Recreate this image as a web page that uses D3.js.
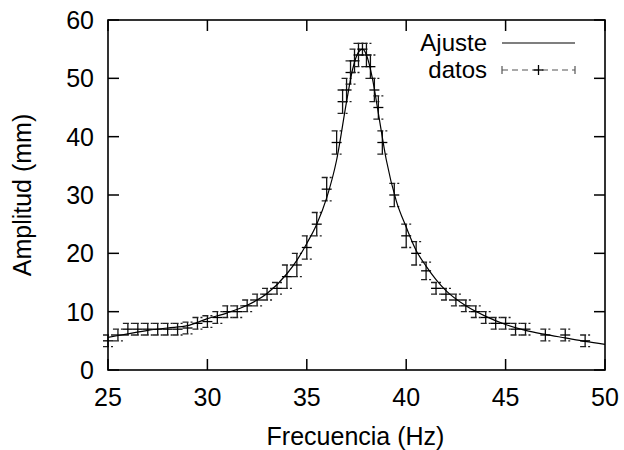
<!DOCTYPE html>
<html>
<head>
<meta charset="utf-8">
<script src="https://cdn.jsdelivr.net/npm/d3@7"></script>
<style>
  body { margin: 0; background: #fff; }
  svg { display: block; font-family: "Liberation Sans", Arial, sans-serif; }
</style>
</head>
<body>
<div id="chart"></div>
<script>
// Measured data (frequency in Hz, amplitude in mm, error in mm)
const freq = [25, 25.5, 26, 26.5, 27, 27.5, 28, 28.5, 29, 29.5, 30, 30.5, 31, 31.5, 32, 32.5,
  33, 33.5, 34, 34.5, 35, 35.5, 36, 36.5, 36.8, 37.0, 37.2, 37.4, 37.6, 37.8, 38.0, 38.2,
  38.4, 38.6, 38.8, 39.4, 40.0, 40.5, 41.0, 41.5, 42.0, 42.5, 43.0, 43.5, 44.0, 44.5,
  45.0, 45.5, 46.0, 47.0, 48.0, 49.0];
const amp = [5, 6, 7, 7, 7, 7, 7, 7, 7.2, 8, 8.3, 9, 10, 10, 11, 12,
  13, 14, 16, 18, 21, 25, 31, 39, 46, 48, 51, 53, 54, 55, 54, 52,
  48, 45, 39, 30, 23, 20, 17, 14, 13, 12, 11, 10, 9, 8,
  8, 7, 7, 6, 6, 5];
const err = [1, 1, 1, 1, 1, 1, 1, 1, 1, 1, 1, 1, 1, 1, 1, 1,
  1, 1, 2, 2, 2, 2, 2, 2, 2, 2, 2, 2, 2, 1, 2, 2,
  2, 2, 2, 2, 2, 2, 1.5, 1, 1, 1, 1, 1, 1, 1,
  1, 1, 1, 1, 1, 1];

// Fitted curve ("Ajuste")
const fitFreq = [25, 26, 27, 28, 29, 30, 31, 32, 33, 34, 34.5, 35, 35.5, 36, 36.5, 37,
  37.3, 37.6, 37.8, 38.0, 38.3, 38.6, 39, 39.5, 40, 40.5, 41, 41.5, 42, 43, 44, 45,
  46, 47, 48, 49, 50];
const fitAmp = [5.6, 6.2, 6.8, 7.2, 7.6, 8.8, 9.8, 11.1, 13.1, 16.5, 18.8, 21.7, 25, 29.5, 36, 46,
  51.5, 54.5, 55, 54, 50, 44, 36, 29, 24.5, 20.5, 17.8, 15.5, 13.6, 11, 9.2, 7.8,
  6.8, 6.1, 5.5, 4.9, 4.4];

const xTicks = [25, 30, 35, 40, 45, 50];
const yTicks = [0, 10, 20, 30, 40, 50, 60];

const W = 624, H = 450;
const margin = { top: 20, right: 19, bottom: 80, left: 108 };
const FONT = 25;
const LEGEND_FONT = 24;
const TICK = 11;

const svg = d3.select('#chart').append('svg')
  .attr('width', W).attr('height', H);

const x = d3.scaleLinear().domain([25, 50]).range([margin.left, W - margin.right]);
const y = d3.scaleLinear().domain([0, 60]).range([H - margin.bottom, margin.top]);

// Inward ticks on all four sides
const tickG = svg.append('g').attr('stroke', '#000').attr('stroke-width', 1.5);
xTicks.forEach(t => {
  tickG.append('line').attr('x1', x(t)).attr('x2', x(t))
    .attr('y1', y(0)).attr('y2', y(0) - TICK);
  tickG.append('line').attr('x1', x(t)).attr('x2', x(t))
    .attr('y1', y(60)).attr('y2', y(60) + TICK);
});
yTicks.forEach(t => {
  tickG.append('line').attr('x1', x(25)).attr('x2', x(25) + TICK)
    .attr('y1', y(t)).attr('y2', y(t));
  tickG.append('line').attr('x1', x(50)).attr('x2', x(50) - TICK)
    .attr('y1', y(t)).attr('y2', y(t));
});

// Tick labels
svg.append('g').selectAll('text').data(xTicks).enter().append('text')
  .attr('x', d => x(d)).attr('y', y(0) + 36)
  .attr('text-anchor', 'middle').attr('font-size', FONT)
  .text(d => d);
svg.append('g').selectAll('text').data(yTicks).enter().append('text')
  .attr('x', x(25) - 14).attr('y', d => y(d) + 9)
  .attr('text-anchor', 'end').attr('font-size', FONT)
  .text(d => d);

// Axis titles
svg.append('text')
  .attr('x', (x(25) + x(50)) / 2 - 1).attr('y', 445)
  .attr('text-anchor', 'middle').attr('font-size', FONT)
  .text('Frecuencia (Hz)');
svg.append('text')
  .attr('transform', `translate(31,${(y(0) + y(60)) / 2}) rotate(-90)`)
  .attr('text-anchor', 'middle').attr('font-size', FONT)
  .text('Amplitud (mm)');

// Clip the fit curve to the plot area
svg.append('defs').append('clipPath').attr('id', 'clip')
  .append('rect')
  .attr('x', x(25)).attr('y', y(60))
  .attr('width', x(50) - x(25)).attr('height', y(0) - y(60));

// Error bars + point markers (not clipped, like gnuplot)
const pts = freq.map((f, i) => ({ f, a: amp[i], e: err[i] }));
const CAP = 5, PT = 5;
const eg = svg.append('g').selectAll('g').data(pts).enter().append('g');
eg.append('line')
  .attr('x1', d => x(d.f)).attr('x2', d => x(d.f))
  .attr('y1', d => y(d.a + d.e)).attr('y2', d => y(d.a - d.e))
  .attr('stroke', '#111').attr('stroke-width', 1.3);
eg.append('line')
  .attr('x1', d => x(d.f) - CAP).attr('x2', d => x(d.f) + CAP)
  .attr('y1', d => y(d.a + d.e)).attr('y2', d => y(d.a + d.e))
  .attr('stroke', '#222').attr('stroke-width', 1.3)
  .attr('stroke-dasharray', '6,2');
eg.append('line')
  .attr('x1', d => x(d.f) - CAP).attr('x2', d => x(d.f) + CAP)
  .attr('y1', d => y(d.a - d.e)).attr('y2', d => y(d.a - d.e))
  .attr('stroke', '#222').attr('stroke-width', 1.3)
  .attr('stroke-dasharray', '6,2');
eg.append('line')
  .attr('x1', d => x(d.f) - PT).attr('x2', d => x(d.f) + PT)
  .attr('y1', d => y(d.a)).attr('y2', d => y(d.a))
  .attr('stroke', '#000').attr('stroke-width', 1.3);

// Fit curve
const fit = fitFreq.map((f, i) => [f, fitAmp[i]]);
svg.append('g').attr('clip-path', 'url(#clip)').append('path')
  .datum(fit)
  .attr('fill', 'none').attr('stroke', '#000').attr('stroke-width', 1.2)
  .attr('d', d3.line().x(d => x(d[0])).y(d => y(d[1])).curve(d3.curveMonotoneX));

// Border
svg.append('rect')
  .attr('x', x(25)).attr('y', y(60))
  .attr('width', x(50) - x(25)).attr('height', y(0) - y(60))
  .attr('fill', 'none').attr('stroke', '#000').attr('stroke-width', 1.6);

// Legend
const lx1 = 502, lx2 = 575;
svg.append('text').attr('x', 487).attr('y', 51)
  .attr('text-anchor', 'end').attr('font-size', LEGEND_FONT).text('Ajuste');
svg.append('line').attr('x1', lx1).attr('x2', lx2).attr('y1', 43).attr('y2', 43)
  .attr('stroke', '#000').attr('stroke-width', 1.2);
svg.append('text').attr('x', 487).attr('y', 78)
  .attr('text-anchor', 'end').attr('font-size', LEGEND_FONT).text('datos');
const ly = 70;
const lg = svg.append('g').attr('stroke', '#555').attr('stroke-width', 1.2);
lg.append('line').attr('x1', lx1).attr('x2', lx2).attr('y1', ly).attr('y2', ly)
  .attr('stroke-dasharray', '6,4');
lg.append('line').attr('x1', lx1).attr('x2', lx1).attr('y1', ly - 4).attr('y2', ly + 4);
lg.append('line').attr('x1', lx2).attr('x2', lx2).attr('y1', ly - 4).attr('y2', ly + 4);
svg.append('g').attr('stroke', '#000').attr('stroke-width', 1.3)
  .call(g => {
    const cx = (lx1 + lx2) / 2;
    g.append('line').attr('x1', cx - PT).attr('x2', cx + PT).attr('y1', ly).attr('y2', ly);
    g.append('line').attr('x1', cx).attr('x2', cx).attr('y1', ly - 5).attr('y2', ly + 5);
  });
</script>
</body>
</html>
